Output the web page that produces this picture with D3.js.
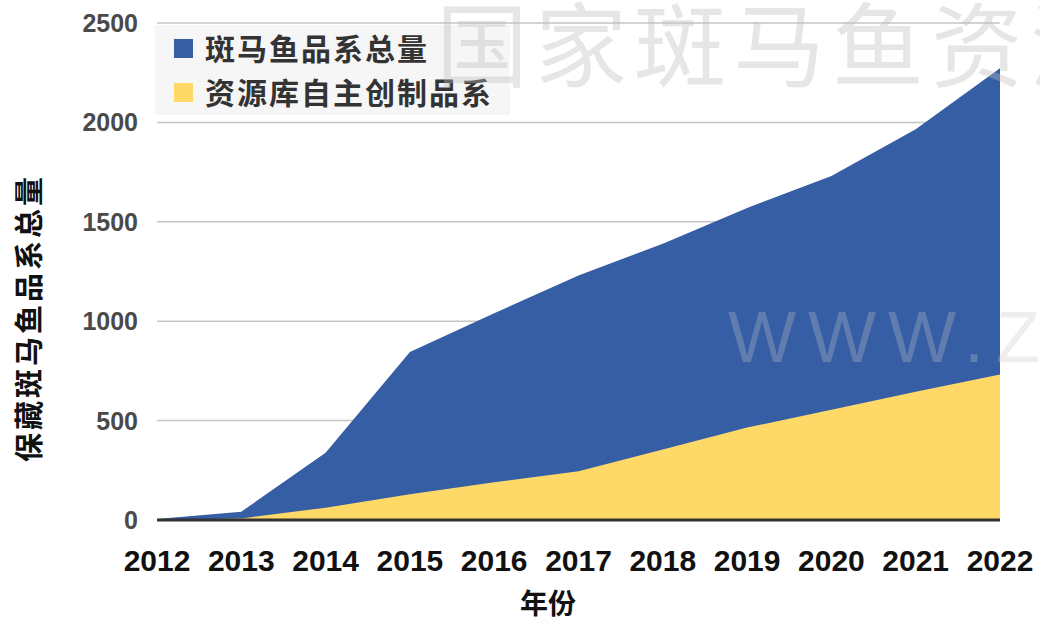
<!DOCTYPE html>
<html>
<head>
<meta charset="utf-8">
<script src="https://cdn.jsdelivr.net/npm/d3@7"></script>
<style>
  body { margin: 0; background: #fff; }
  svg { display: block; }
</style>
</head>
<body>
<svg width="1040" height="622"></svg>
<script>
// years on the x axis
const years = [2012, 2013, 2014, 2015, 2016, 2017, 2018, 2019, 2020, 2021, 2022];
// total zebrafish lines held
const totalLines = [5, 42, 338, 845, 1040, 1230, 1390, 1570, 1730, 1965, 2272];
// lines created in-house by the resource center
const ownLines = [0, 8, 62, 130, 190, 245, 355, 465, 555, 645, 732];
const yTicks = [0, 500, 1000, 1500, 2000, 2500];
const seriesNames = ['斑马鱼品系总量', '资源库自主创制品系'];

const cjk = '"Noto Sans CJK SC", "Noto Sans", sans-serif';
const latin = '"Liberation Sans", Arial, sans-serif';

const svg = d3.select('svg');

const x = d3.scaleLinear().domain([2012, 2022]).range([157, 1000]);
const y = d3.scaleLinear().domain([0, 2500]).range([520, 23]);

// grid lines
svg.append('g')
    .selectAll('line')
    .data(yTicks.filter(d => d > 0))
    .enter().append('line')
    .attr('x1', x(2012)).attr('x2', x(2022))
    .attr('y1', d => y(d)).attr('y2', d => y(d))
    .attr('stroke', '#c4c4c4')
    .attr('stroke-width', 1.5);

// y tick labels
svg.append('g')
    .selectAll('text')
    .data(yTicks)
    .enter().append('text')
    .attr('x', 138)
    .attr('y', d => y(d) + 9)
    .attr('text-anchor', 'end')
    .attr('font-family', latin)
    .attr('font-weight', 'bold')
    .attr('font-size', 25)
    .attr('fill', '#4a4a4a')
    .text(d => d);

const area = vals => d3.area()
    .x((d, i) => x(years[i]))
    .y0(y(0))
    .y1(d => y(d))(vals);

svg.append('path').attr('d', area(totalLines)).attr('fill', '#355ea5');
svg.append('path').attr('d', area(ownLines)).attr('fill', '#fed967');

// baseline
svg.append('line')
    .attr('x1', x(2012)).attr('x2', x(2022))
    .attr('y1', y(0)).attr('y2', y(0))
    .attr('stroke', '#333')
    .attr('stroke-width', 3);

// x tick labels
svg.append('g')
    .selectAll('text')
    .data(years)
    .enter().append('text')
    .attr('x', d => x(d))
    .attr('y', 571)
    .attr('text-anchor', 'middle')
    .attr('font-family', latin)
    .attr('font-weight', 'bold')
    .attr('font-size', 30)
    .attr('fill', '#111')
    .text(d => d);

// axis titles
svg.append('text')
    .attr('x', 548).attr('y', 614)
    .attr('text-anchor', 'middle')
    .attr('font-family', cjk)
    .attr('font-weight', 'bold')
    .attr('font-size', 28)
    .attr('fill', '#111')
    .text('年份');

svg.append('text')
    .attr('transform', 'translate(40,318) rotate(-90)')
    .attr('text-anchor', 'middle')
    .attr('font-family', cjk)
    .attr('font-weight', 'bold')
    .attr('font-size', 29)
    .attr('letter-spacing', 3)
    .attr('fill', '#111')
    .text('保藏斑马鱼品系总量');

// legend
const legend = svg.append('g');
legend.append('rect')
    .attr('x', 155).attr('y', 25)
    .attr('width', 355).attr('height', 90)
    .attr('fill', '#f6f6f6');
const colors = ['#355ea5', '#fed967'];
seriesNames.forEach((name, i) => {
    legend.append('rect')
        .attr('x', 174).attr('y', 39 + i * 44)
        .attr('width', 19).attr('height', 19)
        .attr('fill', colors[i]);
    legend.append('text')
        .attr('x', 205).attr('y', 60 + i * 44)
        .attr('font-family', cjk)
        .attr('font-weight', 'bold')
        .attr('font-size', 30)
        .attr('letter-spacing', 2)
        .attr('fill', '#333')
        .text(name);
});

// watermarks
svg.append('text')
    .attr('x', 436).attr('y', 80)
    .attr('font-family', cjk)
    .attr('font-weight', 400)
    .attr('font-size', 92)
    .attr('letter-spacing', 7)
    .attr('fill', '#bdbdbd')
    .attr('fill-opacity', 0.38)
    .text('国家斑马鱼资源中心');

svg.append('text')
    .attr('x', 728).attr('y', 362)
    .attr('font-family', latin)
    .attr('font-size', 72)
    .attr('letter-spacing', 12)
    .attr('fill', '#c8c8c8')
    .attr('fill-opacity', 0.3)
    .text('WWW.ZFISH.CN');
</script>
</body>
</html>
